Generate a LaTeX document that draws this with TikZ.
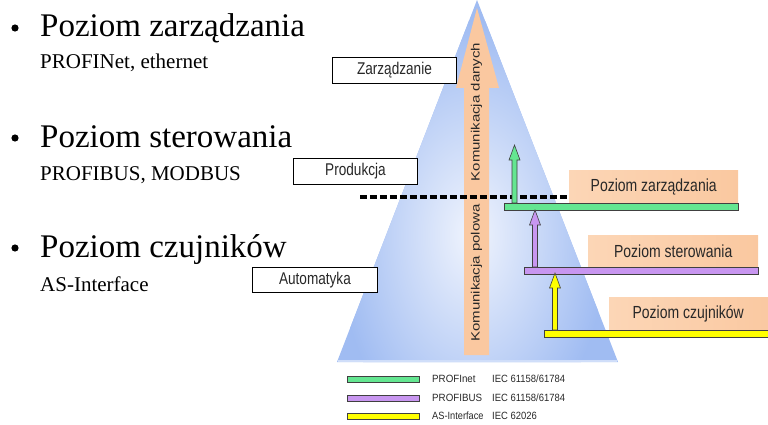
\documentclass[tikz,border=0pt]{standalone}
\usepackage{fontspec}
\setmainfont{Liberation Serif}
\setsansfont{Liberation Sans}
\usepackage{graphicx}
\definecolor{pyrblue}{RGB}{160,188,242}
\definecolor{pyrlight}{RGB}{240,244,253}
\definecolor{peach}{RGB}{250,200,160}
\definecolor{peachlight}{RGB}{252,214,182}
\definecolor{netgreen}{RGB}{100,230,145}
\definecolor{buspurple}{RGB}{200,150,240}
\definecolor{asyellow}{RGB}{255,255,0}
\definecolor{labelgray}{RGB}{40,40,40}
\newcommand\busarrow[4]{%
  \filldraw[fill=#1, draw=black!75, line width=0.6pt]
    (#2-2.5,#3) -- (#2-2.5,#4+15) -- (#2-5.5,#4+15) -- (#2,#4) --
    (#2+5.5,#4+15) -- (#2+2.5,#4+15) -- (#2+2.5,#3) -- cycle;}
\newcommand\cond[1]{\scalebox{0.8}[1]{#1}}
\tikzset{
  bigtext/.style={anchor=base west, inner sep=0, font=\fontsize{33}{36}\selectfont},
  subtext/.style={anchor=base west, inner sep=0, font=\fontsize{21}{23}\selectfont},
  levelbox/.style={draw=black, line width=0.9pt, fill=white, anchor=north west, inner sep=0,
    font=\sffamily\fontsize{17}{19}\selectfont, text=labelgray},
  peachbox/.style={anchor=north west, inner sep=0, left color=peachlight, right color=peach,
    font=\sffamily\fontsize{17.5}{19}\selectfont, text=labelgray},
  busbar/.style={draw=black!75, line width=0.6pt, anchor=north west, inner sep=0},
  legtext/.style={anchor=west, inner sep=0, font=\sffamily\fontsize{10.5}{12}\selectfont, text=labelgray},
  rottext/.style={rotate=90, inner sep=0, font=\sffamily\fontsize{15}{16}\selectfont, text=labelgray}
}
\begin{document}
\begin{tikzpicture}[x=1pt,y=-1pt]
\useasboundingbox (0,0) rectangle (768,425);
% pyramid
\begin{scope}
  \clip (477,0) -- (618,362) -- (337,362) -- cycle;
  \fill[pyrblue] (330,0) rectangle (630,370);
  \shade[inner color=pyrlight, outer color=pyrblue] (472,235) ellipse (135 and 215);
\end{scope}
\draw[pyrlight!60!pyrblue, line width=1.2pt] (338,361) -- (617,361);
% data communication arrow
\fill[peach] (464,355) -- (464,88) -- (456,88) -- (477,8) -- (499,88) -- (489,88) -- (489,355) -- cycle;
\node[rottext] (kd) at (476.5,112) {\scalebox{1}[0.8]{Komunikacja danych}};
\node[rottext] (kp) at (476.5,273) {\scalebox{1}[0.8]{Komunikacja polowa}};
% left texts
\fill (15,28) circle (3.6);
\fill (15,138) circle (3.6);
\fill (15,248) circle (3.6);
\node[bigtext] (t1) at (40,37) {Poziom zarządzania};
\node[subtext] (s1) at (40,69) {PROFINet, ethernet};
\node[bigtext] (t2) at (40,147) {Poziom sterowania};
\node[subtext] (s2) at (40,180) {PROFIBUS, MODBUS};
\node[bigtext] (t3) at (40,257) {Poziom czujników};
\node[subtext] (s3) at (40,291) {AS-Interface};
% level boxes
\node[levelbox, minimum width=124pt, minimum height=26pt] (zarz) at (332,57) {\cond{Zarządzanie}};
\node[levelbox, minimum width=124pt, minimum height=26pt] (prod) at (293,158) {\cond{Produkcja}};
\node[levelbox, minimum width=125pt, minimum height=25pt] (auto) at (252,267) {\cond{Automatyka}};
% right peach boxes
\node[peachbox, minimum width=169pt, minimum height=33pt] (pz) at (569,170) {\cond{Poziom zarządzania}};
\node[peachbox, minimum width=170pt, minimum height=32pt] (ps) at (588,235) {\cond{Poziom sterowania}};
\node[peachbox, minimum width=170pt, minimum height=33pt] (pc) at (609,297) {\hspace*{-12pt}\cond{Poziom czujników}};
% dashed line
\coordinate (dl) at (360,197);
\draw[black, line width=3.2pt, dash pattern=on 7pt off 3pt] (dl) -- (dl -| pz.west);
% bus bars
\node[busbar, fill=netgreen, minimum width=234pt, minimum height=7pt] (gbar) at (504,203) {};
\node[busbar, fill=buspurple, minimum width=234pt, minimum height=7pt] (vbar) at (524,267) {};
\node[busbar, fill=asyellow, minimum width=230pt, minimum height=7pt] (ybar) at (544,330) {};
% arrows between levels
\busarrow{netgreen}{514.5}{203}{145}
\busarrow{buspurple}{535}{267}{210}
\busarrow{asyellow}{555}{330}{273}
% legend
\node[busbar, fill=netgreen, minimum width=72pt, minimum height=6pt] (lg) at (347,376) {};
\node[busbar, fill=buspurple, minimum width=72pt, minimum height=6pt] (lv) at (347,395) {};
\node[busbar, fill=asyellow, minimum width=72pt, minimum height=6pt] (ly) at (347,413) {};
\node[legtext] (lg1) at (432,379) {\scalebox{0.93}[1]{PROFInet}};
\node[legtext] (lg2) at (492,379) {\scalebox{0.9}[1]{IEC 61158/61784}};
\node[legtext] (lv1) at (432,398) {\scalebox{0.93}[1]{PROFIBUS}};
\node[legtext] (lv2) at (492,398) {\scalebox{0.9}[1]{IEC 61158/61784}};
\node[legtext] (ly1) at (432,416) {\scalebox{0.88}[1]{AS-Interface}};
\node[legtext] (ly2) at (492,416) {\scalebox{0.9}[1]{IEC 62026}};
\end{tikzpicture}
\end{document}
